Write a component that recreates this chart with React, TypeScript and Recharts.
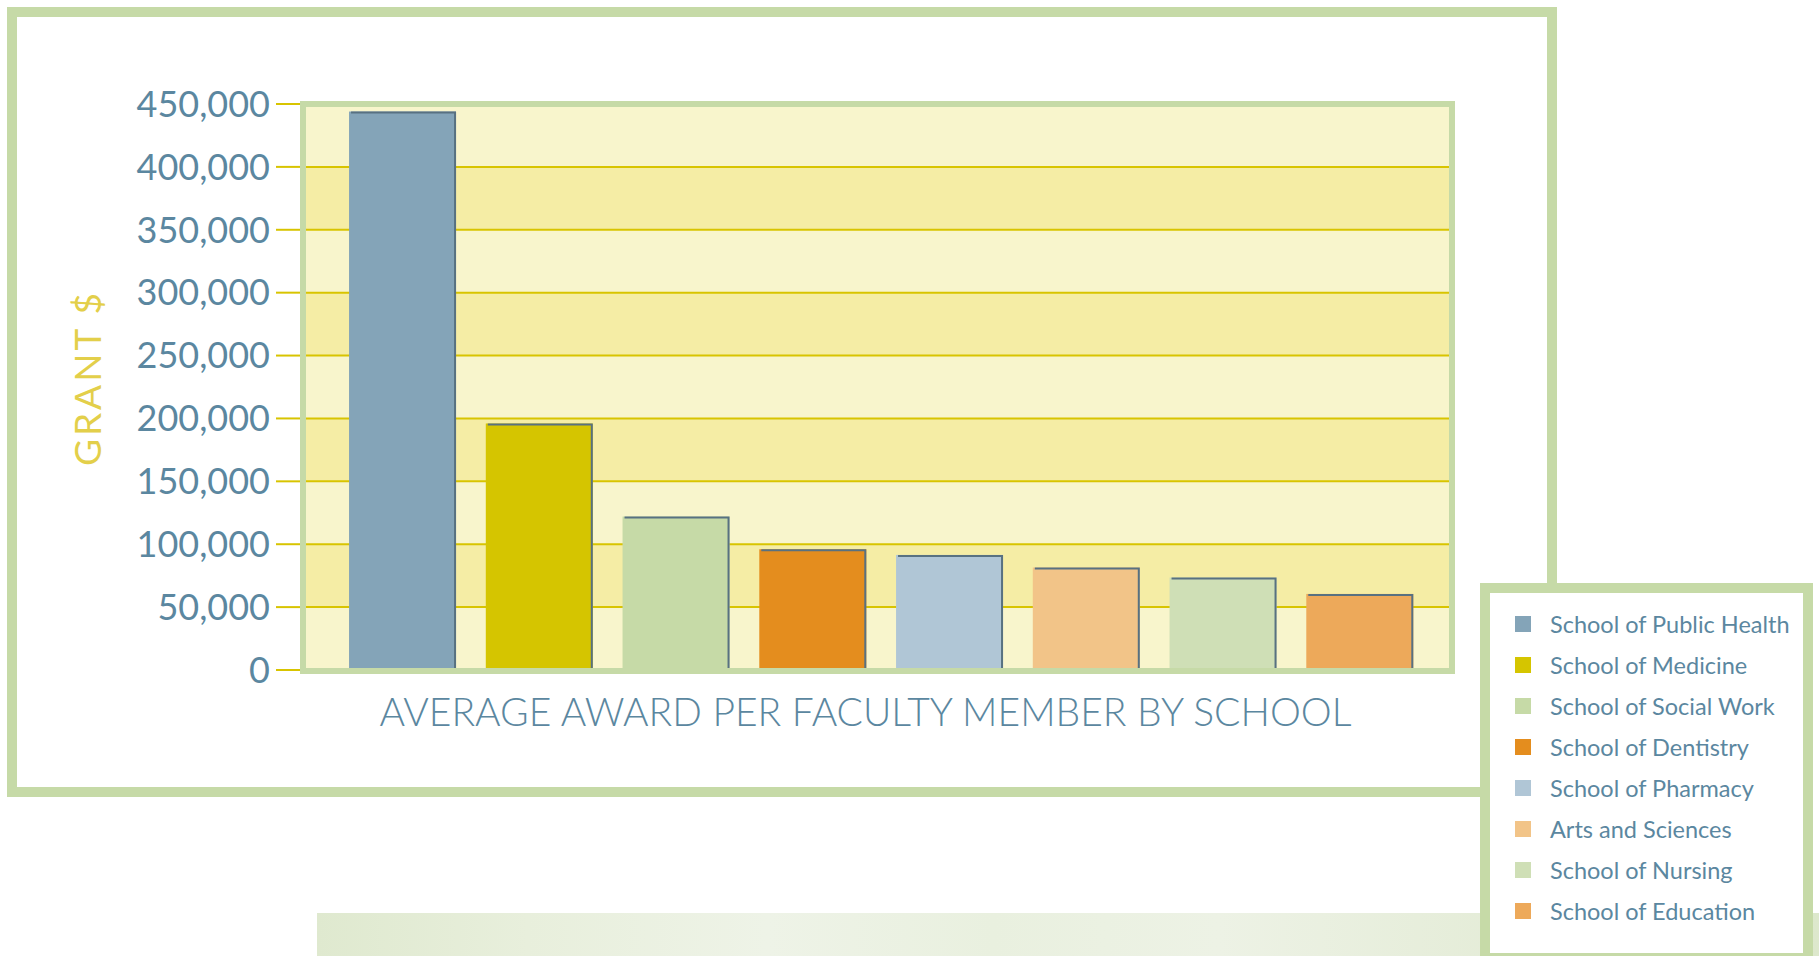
import { BarChart, Bar, Cell, XAxis, YAxis, CartesianGrid } from "recharts";

const schools = [
  "School of Public Health",
  "School of Medicine",
  "School of Social Work",
  "School of Dentistry",
  "School of Pharmacy",
  "Arts and Sciences",
  "School of Nursing",
  "School of Education",
];

const awards = [444000, 196000, 122000, 96000, 91500, 81500, 73500, 60500];

const yTicks = [0, 50000, 100000, 150000, 200000, 250000, 300000, 350000, 400000, 450000];

const barColors = [
  "#84a4b8",
  "#d5c500",
  "#c6daa7",
  "#e48d1e",
  "#b0c6d6",
  "#f2c488",
  "#cfdfb6",
  "#eda95a",
];

const data = schools.map((school, i) => ({ school, value: awards[i] }));

const FONT = "Lato, 'Open Sans', sans-serif";
const BLUE = "#5b87a0";
const FRAME = "#c6daa7";

function BarShape(props: any) {
  const { x, y, width, height, index } = props;
  if (!height) return null;
  return (
    <g>
      <rect x={x} y={y} width={width} height={height} fill={barColors[index]} />
      <path
        d={`M${x + 2},${y + 1} H${x + width - 1} V${y + height}`}
        stroke="#587181"
        strokeWidth={2}
        fill="none"
      />
    </g>
  );
}

function XTitle({ viewBox }: any) {
  return (
    <text
      x={viewBox.x + viewBox.width / 2 - 12}
      y={viewBox.y + 56}
      textAnchor="middle"
      fill={BLUE}
      fontFamily={FONT}
      fontWeight={300}
      fontSize={39}
    >
      AVERAGE AWARD PER FACULTY MEMBER BY SCHOOL
    </text>
  );
}

function YTitle({ viewBox }: any) {
  const cx = 101;
  const cy = viewBox.y + viewBox.height / 2 - 9;
  return (
    <text
      x={cx}
      y={cy}
      transform={`rotate(-90 ${cx} ${cy})`}
      textAnchor="middle"
      fill="#e3cf4a"
      fontFamily={FONT}
      fontSize={37}
      letterSpacing={3}
    >
      GRANT $
    </text>
  );
}

export default function App() {
  return (
    <div
      style={{
        position: "absolute",
        left: 0,
        top: 0,
        width: 1819,
        height: 956,
        background: "#fff",
        overflow: "hidden",
        fontFamily: FONT,
      }}
    >
      {/* pale green strip at the bottom */}
      <div
        style={{
          position: "absolute",
          left: 317,
          top: 913,
          width: 1502,
          height: 43,
          background:
            "linear-gradient(90deg, #dfe9cf 0%, #e8efdc 14%, #eef3e7 30%, #e9f0df 45%, #edf2e5 60%, #e4ecd7 80%, #dde8cc 100%)",
        }}
      />

      {/* outer frame */}
      <div
        style={{
          position: "absolute",
          left: 7,
          top: 7,
          width: 1550,
          height: 790,
          border: `10px solid ${FRAME}`,
          boxSizing: "border-box",
        }}
      />

      <div style={{ position: "absolute", left: 0, top: 0 }}>
        <BarChart
          width={1500}
          height={800}
          data={data}
          margin={{ top: 104, right: 51, bottom: 70, left: 0 }}
          barCategoryGap="11%"
        >
          <CartesianGrid
            vertical={false}
            stroke="#d8c400"
            strokeWidth={2}
            horizontalFill={["#f8f5cc", "#f5eda5"]}
            fillOpacity={1}
          />
          <XAxis
            dataKey="school"
            height={60}
            tick={false}
            tickLine={false}
            axisLine={false}
            padding={{ left: 28, right: 21 }}
            label={<XTitle />}
          />
          <YAxis
            width={306}
            domain={[0, 450000]}
            ticks={yTicks}
            interval={0}
            axisLine={false}
            tickSize={30}
            tickMargin={6}
            tickLine={{ stroke: "#d8c400", strokeWidth: 2 }}
            tick={{ fill: BLUE, fontSize: 36, fontFamily: FONT }}
            tickFormatter={(v: number) => v.toLocaleString("en-US")}
            label={<YTitle />}
          />
          <Bar dataKey="value" shape={<BarShape />} isAnimationActive={false}>
            {data.map((d, i) => (
              <Cell key={d.school} fill={barColors[i]} />
            ))}
          </Bar>
        </BarChart>
      </div>

      {/* plot frame */}
      <div
        style={{
          position: "absolute",
          left: 300,
          top: 101,
          width: 1155,
          height: 573,
          border: `6px solid ${FRAME}`,
          boxSizing: "border-box",
          pointerEvents: "none",
        }}
      />

      {/* legend */}
      <div
        style={{
          position: "absolute",
          left: 1480,
          top: 583,
          width: 333,
          height: 380,
          border: `10px solid ${FRAME}`,
          boxSizing: "border-box",
          background: "#fff",
        }}
      >
        <div style={{ position: "absolute", left: 25, top: 10 }}>
          {schools.map((s, i) => (
            <div
              key={s}
              style={{ display: "flex", alignItems: "center", height: 41.14 }}
            >
              <div
                style={{ width: 16, height: 16, background: barColors[i], marginRight: 19 }}
              />
              <span style={{ fontSize: 23.5, color: BLUE, whiteSpace: "nowrap" }}>{s}</span>
            </div>
          ))}
        </div>
      </div>
    </div>
  );
}
